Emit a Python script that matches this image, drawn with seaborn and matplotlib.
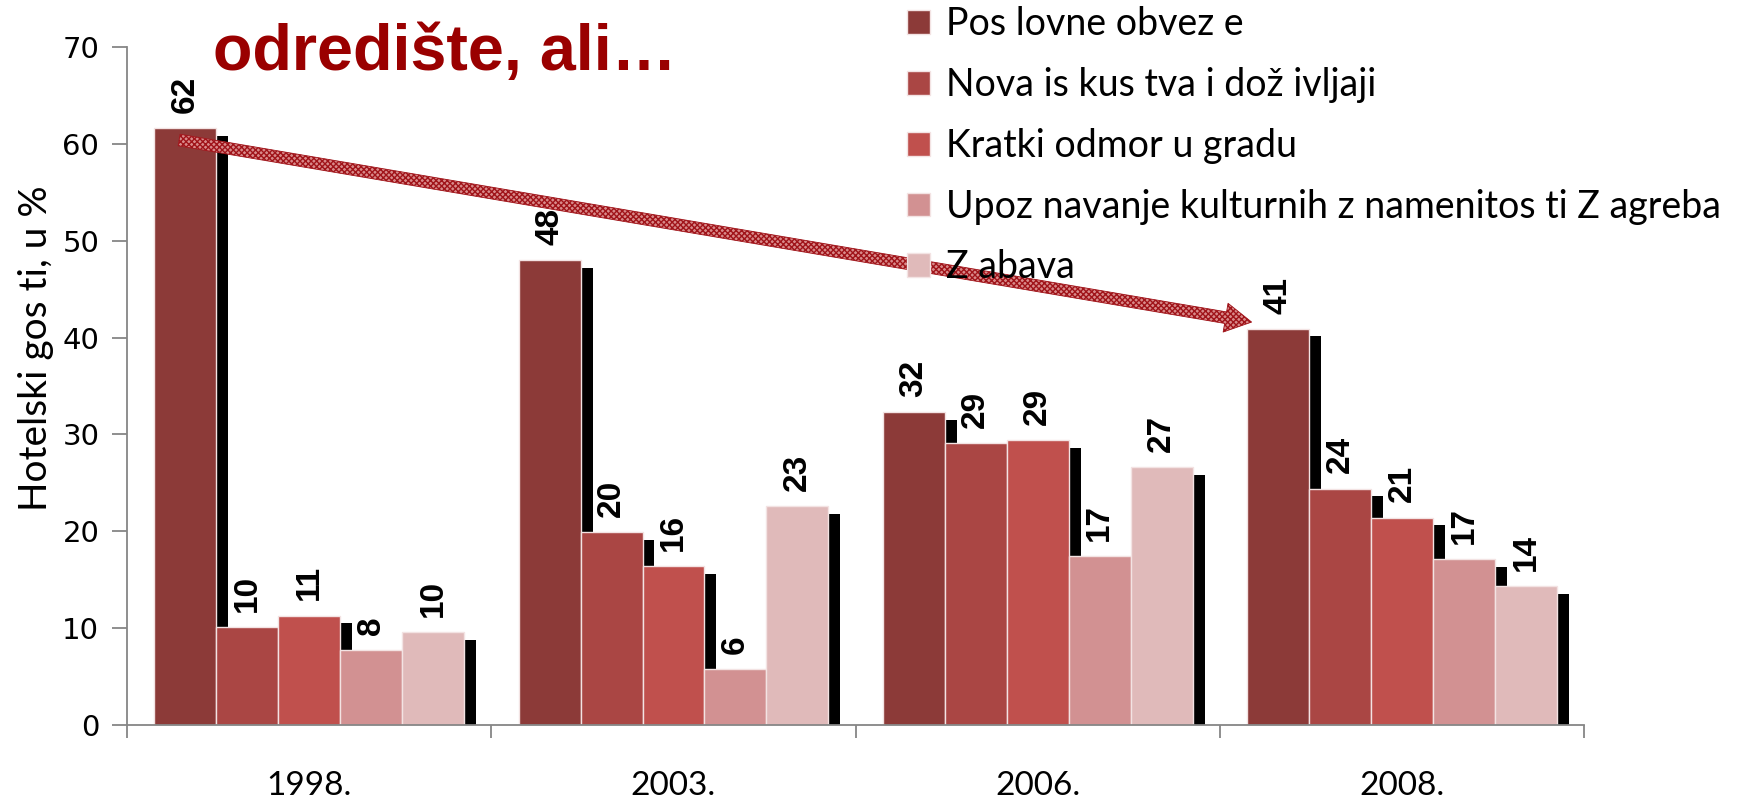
import numpy as np
import pandas as pd
import seaborn as sns
import matplotlib.pyplot as plt
from matplotlib import patheffects
from matplotlib.patches import Patch

years = ["1998.", "2003.", "2006.", "2008."]
motives = [
    "Pos lovne obvez e",
    "Nova is kus tva i dož ivljaji",
    "Kratki odmor u gradu",
    "Upoz navanje kulturnih z namenitos ti Z agreba",
    "Z abava",
]
poslovne = [61.6, 48.0, 32.3, 40.9]
nova = [10.1, 19.9, 29.1, 24.4]
kratki = [11.3, 16.4, 29.4, 21.4]
upoznavanje = [7.7, 5.8, 17.4, 17.1]
zabava = [9.6, 22.6, 26.6, 14.3]
colors = ["#8c3a38", "#aa4644", "#c0504d", "#d29192", "#e0baba"]

series = [poslovne, nova, kratki, upoznavanje, zabava]
df = pd.DataFrame({
    "year": years * len(motives),
    "motive": [m for m in motives for _ in years],
    "value": [v for s in series for v in s],
})

sns.set_style("ticks")
plt.rcParams["font.family"] = ["DejaVu Sans"]
plt.rcParams["text.color"] = "black"
plt.rcParams["axes.labelcolor"] = "black"
plt.rcParams["xtick.labelcolor"] = "black"
plt.rcParams["ytick.labelcolor"] = "black"

fig = plt.figure(figsize=(17.62, 8.01), dpi=100)
ax = fig.add_axes([0.0721, 0.0949, 0.827, 0.8464])

sns.barplot(data=df, x="year", y="value", hue="motive", palette=colors,
            saturation=1, width=0.85, edgecolor="#f3e3e3", linewidth=1,
            legend=False, ax=ax)

# black drop shadow to the lower right of every bar
for p in ax.patches:
    p.set_path_effects([
        patheffects.SimplePatchShadow(offset=(8.6, -5.4), shadow_rgbFace="black", alpha=1),
        patheffects.Normal(),
    ])

for cont, vals in zip(ax.containers, series):
    ax.bar_label(cont, labels=[f"{v:.0f}" for v in vals], rotation=90, padding=11,
                 fontsize=24, fontweight="bold", family="Liberation Sans", color="black")

ax.set_ylim(0, 70)
ax.set_xlim(-0.5, 3.5)
ax.set_yticks(range(0, 71, 10))
ax.set_xticks(range(4))
ax.set_xticks(np.arange(-0.5, 4, 1), minor=True)
ax.tick_params(axis="x", which="major", length=0, pad=33, labelsize=24)
ax.tick_params(axis="x", which="minor", length=9.5, width=1.3, color="#868686")
ax.tick_params(axis="y", length=11, width=1.3, color="#868686", pad=9, labelsize=21)
for lab in ax.get_xticklabels():
    lab.set_family("Lato")
ax.set_xlabel("")
ax.set_ylabel("Hotelski gos ti, u %", fontsize=28, family="Lato")
ax.yaxis.set_label_coords(-0.05, 0.556)
for side in ["top", "right"]:
    ax.spines[side].set_visible(False)
for side in ["left", "bottom"]:
    ax.spines[side].set_color("#868686")
    ax.spines[side].set_linewidth(1.3)

ax.annotate("", xy=(2.587, 41.6), xytext=(-0.357, 60.4),
            arrowprops=dict(arrowstyle="simple,head_length=0.95,head_width=1.05,tail_width=0.42",
                            mutation_scale=20, facecolor="#d98a8a", edgecolor="#a0141a",
                            hatch="xxxxxx", linewidth=0.6, shrinkA=0, shrinkB=0))

fig.text(213 / 1762, 1 - 70 / 801, "odredište, ali…", fontsize=46.5, fontweight="bold",
         color="#9a0000", family="Liberation Sans", ha="left", va="baseline")

handles = [Patch(facecolor=c, edgecolor="#f3e3e3") for c in colors]
fig.legend(handles=handles, labels=motives, loc="upper left",
           bbox_to_anchor=(907 / 1762, 0.992), frameon=False,
           prop={"family": "Lato", "size": 27}, handlelength=0.6, handleheight=0.6,
           handletextpad=0.45, labelspacing=0.66, borderpad=0, borderaxespad=0)

fig.savefig("out.png", dpi=100)
